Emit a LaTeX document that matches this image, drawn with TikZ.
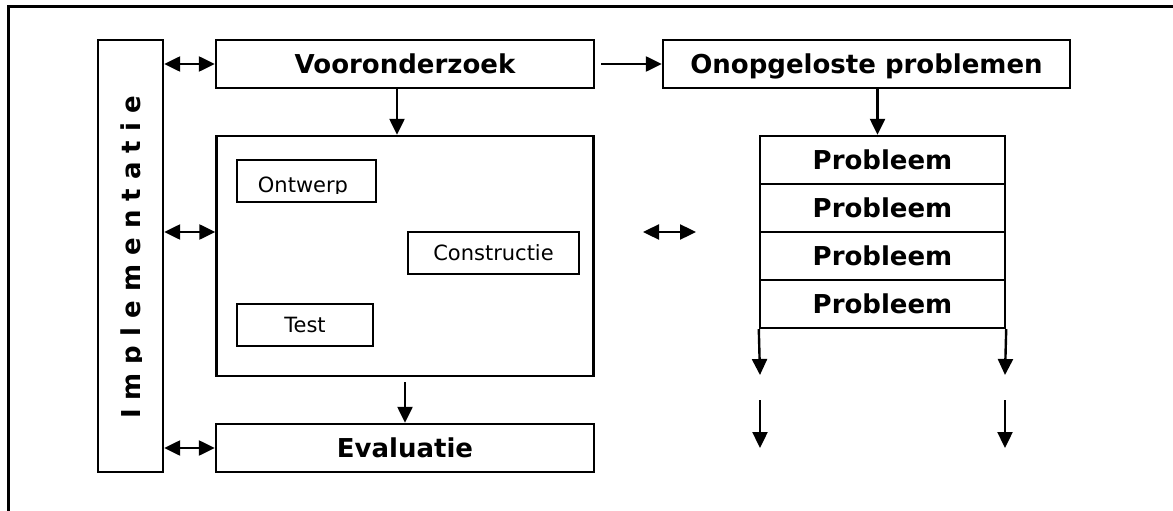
\documentclass[tikz,border=0pt]{standalone}
\usepackage{fontspec}
\setmainfont{DejaVu Sans}
\usetikzlibrary{arrows.meta,positioning}
\tikzstyle{bigbox} = [rectangle, draw=black, line width=2.4pt, minimum height=48pt, inner sep=0pt, text depth=0pt, font=\fontsize{26}{30}\selectfont\bfseries]
\tikzstyle{smallbox} = [rectangle, draw=black, line width=2.4pt, minimum height=42pt, inner sep=0pt, text depth=0pt, font=\fontsize{21}{25}\selectfont]
\tikzstyle{smalltext} = [inner sep=0pt, font=\fontsize{21}{25}\selectfont]
\tikzstyle{tallbox} = [rectangle, draw=black, line width=2.4pt, minimum width=65pt, minimum height=432pt]
\tikzstyle{vertlabel} = [rotate=90, anchor=base, inner sep=0pt, font=\fontsize{26}{30}\selectfont\bfseries]
\tikzstyle{frame} = [line width=3pt]
\tikzstyle{arrow} = [line width=2.4pt, -{Triangle[length=16pt,width=15pt]}]
\tikzstyle{dblarrow} = [line width=2.4pt, {Triangle[length=16pt,width=15pt]}-{Triangle[length=16pt,width=15pt]}]

\begin{document}
\begin{tikzpicture}[x=1pt,y=-1pt]
            \useasboundingbox (0,0) rectangle (1173,511);
            \draw [frame] (1173,7) -- (8,7) -- (8,511);

            % left column
            \begin{scope}
                \clip (98,40) rectangle (141.5,472);
                \node (impltxt) [vertlabel] at (140,257.5) {I m p l e m e n t a t i e};
            \end{scope}
            \node (impl) [tallbox] at (130.5,256) {};

            % middle column
            \node (voor) [bigbox, minimum width=378pt] at (405,64) {Vooronderzoek};
            \node (design) [bigbox, minimum width=377pt, minimum height=240pt, below of=voor, node distance=192pt] {};
            \node (eval) [bigbox, minimum width=378pt, below of=design, node distance=192pt] {Evaluatie};

            \node (ontwerp) [smallbox, minimum width=139pt] at (306.5,181) {};
            \begin{scope}
                \clip (237,160) rectangle (376,193);
                \node (ontwerptxt) [smalltext, anchor=base] at (303,192) {Ontwerp};
            \end{scope}
            \node (constructie) [smallbox, minimum width=171pt] at (493.5,253) {Constructie};
            \node (test) [smallbox, minimum width=136pt] at (305,325) {Test};

            % right column
            \node (onop) [bigbox, minimum width=407pt, right of=voor, node distance=461.5pt] {Onopgeloste problemen};
            \node (prob1) [bigbox, minimum width=245pt] at (882.5,160) {Probleem};
            \node (prob2) [bigbox, minimum width=245pt, below of=prob1, node distance=48pt] {Probleem};
            \node (prob3) [bigbox, minimum width=245pt, below of=prob2, node distance=48pt] {Probleem};
            \node (prob4) [bigbox, minimum width=245pt, below of=prob3, node distance=48pt] {Probleem};

            \coordinate (ma) at (643,232);
            \coordinate (mb) at (696,232);
            \coordinate (la) at (760,375);
            \coordinate (ra) at (1005,375);
            \coordinate (lb) at (760,400);
            \coordinate (lc) at (760,448);
            \coordinate (rb) at (1005,400);
            \coordinate (rc) at (1005,448);

            \draw [dblarrow] (voor.west -| impl.east) -- (voor.west);
            \draw [dblarrow] ([yshift=24pt]design.west -| impl.east) -- ([yshift=24pt]design.west);
            \draw [dblarrow] (eval.west -| impl.east) -- (eval.west);
            \draw [arrow] ([xshift=6pt]voor.east) -- (onop.west);
            \draw [arrow] ([xshift=-8pt]voor.south) -- ([xshift=-8pt]voor.south |- design.north);
            \draw [arrow] ([yshift=-5pt]design.south) -- (eval.north);
            \draw [arrow] ([xshift=11pt]onop.south) -- ([xshift=11pt]onop.south |- prob1.north);
            \draw [dblarrow] (ma) -- (mb);
            \draw [arrow] (prob4.south west) -- (la);
            \draw [arrow] (prob4.south east) -- (ra);
            \draw [arrow] (lb) -- (lc);
            \draw [arrow] (rb) -- (rc);
\end{tikzpicture}
\end{document}
